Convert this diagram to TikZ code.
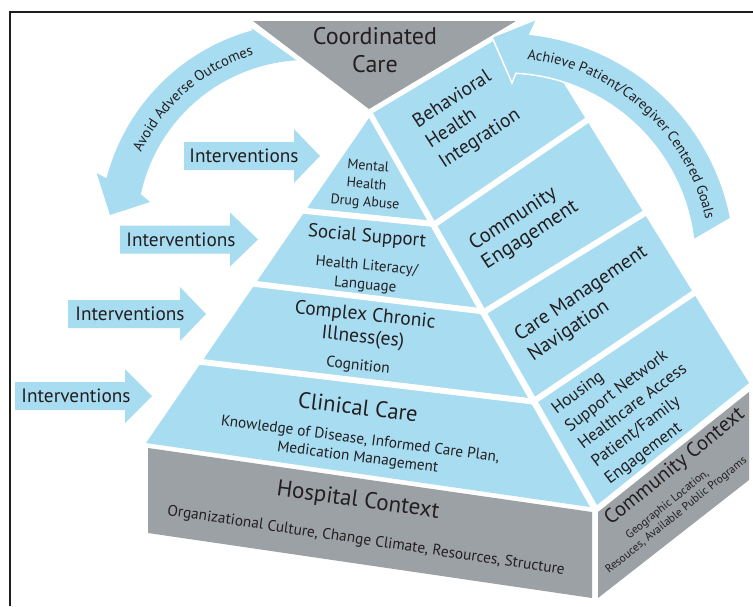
\documentclass[tikz,border=0pt]{standalone}
\usepackage{fontspec}
\setmainfont{PT Sans}
\usetikzlibrary{decorations.text}
\definecolor{pblue}{RGB}{168,220,241}
\definecolor{pgray}{RGB}{156,161,166}
\definecolor{ptext}{RGB}{35,31,32}
\definecolor{pframe}{RGB}{30,30,30}
\newcommand{\fsz}[2]{\fontsize{#1pt}{#2pt}\selectfont}
\tikzset{
  face/.style={fill=pblue},
  basebox/.style={fill=pgray},
  gapline/.style={draw=white, line width=6pt, shorten <=-4pt, shorten >=-4pt},
  lbl/.style={text=ptext, inner sep=0pt, align=center},
  intertext/.style={lbl, font=\fsz{19.3}{22}},
  bandarrow/.style={fill=pblue, draw=white, line width=1.5pt, line join=miter},
}
\newcommand{\intervarrow}[6]{%
  \fill[face] ({#1},{#4-14}) -- ({#2},{#4-14}) -- ({#2},{#4-27}) -- ({#3},{#4})
     -- ({#2},{#4+27}) -- ({#2},{#4+14}) -- ({#1},{#4+14}) -- cycle;
  \node[intertext] (#6) at (#5,#4) {Interventions};}
\begin{document}
\begin{tikzpicture}[x=1pt,y=-1pt]
\useasboundingbox (0,0) rectangle (753,606);
\fill[white] (0,0) rectangle (753,606);
% frame
\draw[pframe, line width=1.5pt] (753,12) -- (10,12) -- (10,606);
% coordinated care triangle
\fill[basebox] (253,21) -- (516,21) -- (369,109) -- cycle;
\node[lbl, font=\fsz{24}{28.5}] (coord) at (375,50) {Coordinated\\Care};
% front face
\fill[face] (369,118) -- (590,507) -- (146,443) -- cycle;
\draw[gapline] (306,211) -- (429,223.5);
\draw[gapline] (256,284) -- (480,311);
\draw[gapline] (202,362) -- (529,401);
% right face
\fill[face] (373,113) -- (505,34) -- (537,40) -- (749,383) -- (597,505) -- cycle;
\draw[gapline] (435,224) -- (586,121);
\draw[gapline] (484,312) -- (645,213);
\draw[gapline] (534,401) -- (694,293);
% base boxes
\fill[basebox] (148,448) -- (592,512) -- (592,598) -- (148,533) -- cycle;
\fill[basebox] (598,512) -- (749,392) -- (749,480) -- (598,598) -- cycle;
% avoid adverse outcomes arrow
\path[bandarrow, draw=none] (251.7,28.3) -- plot[domain=254.7:194.5, samples=40] ({307+207*cos(\x)},{230+207*sin(\x)})
   -- (96.7,173.3) -- (110,215) -- (150,202) -- (140.8,194.2)
   -- plot[domain=192.2:266.5, samples=40] ({307+170*cos(\x)},{230+170*sin(\x)}) -- cycle;
\path[decorate, decoration={text along path, text align=center, text color=ptext,
   text={|\fsz{14.5}{17}|Avoid Adverse Outcomes}}]
   plot[domain=199:259, samples=24] ({307+183*cos(\x)},{230+183*sin(\x)});
% achieve goals arrow
\path[bandarrow] (537,19) -- plot[domain=-84:-11, samples=40] ({506+229*cos(\x)},{262+229*sin(\x)})
   -- plot[domain=-6.7:-87, samples=40] ({506+189*cos(\x)},{262+189*sin(\x)})
   -- (512,83) -- (492,37) -- cycle;
\path[decorate, decoration={text along path, text align=center, text color=ptext,
   text={|\fsz{14.4}{16}|Achieve Patient/Caregiver Centered Goals}}]
   plot[domain=-86:-10, samples=28] ({506+204*cos(\x)},{262+204*sin(\x)});
% interventions arrows
\intervarrow{184}{294}{320}{156}{244}{int1}
\intervarrow{120}{230}{258}{239.5}{181}{int2}
\intervarrow{68}{180}{206}{314}{130}{int3}
\intervarrow{15}{125}{152}{396}{76}{int4}
% front face labels
\node[lbl, font=\fsz{14}{18}, rotate=-5] (mh) at (366.5,185) {Mental\\Health\\Drug Abuse};
\node[lbl, font=\fsz{19}{20}, rotate=-5] (soct) at (367,237) {Social Support};
\node[lbl, font=\fsz{15}{19.2}, rotate=-5] (socs) at (366,276) {Health Literacy/\\Language};
\node[lbl, font=\fsz{19.5}{22}, rotate=-6] (cxt) at (364,327) {Complex Chronic\\Illness(es)};
\node[lbl, font=\fsz{15.5}{16}, rotate=-6] (cxs) at (358,366) {Cognition};
\node[lbl, font=\fsz{22.5}{24}, rotate=-7] (clt) at (358,407) {Clinical Care};
\node[lbl, font=\fsz{15.3}{18.3}, rotate=-7.5] (cls) at (359,449) {Knowledge of Disease, Informed Care Plan,\\Medication Management};
\node[lbl, font=\fsz{23}{24}, rotate=-8] (hct) at (358,501) {Hospital Context};
\node[lbl, font=\fsz{15.4}{17}, rotate=-8.5] (hcs) at (366,541) {Organizational Culture, Change Climate, Resources, Structure};
% right face labels
\node[lbl, align=left, font=\fsz{19.5}{24}, rotate=33] (beh) at (467,119) {Behavioral\\Health\\Integration};
\node[lbl, align=left, font=\fsz{20.5}{23}, rotate=33] (comm) at (524,226) {Community\\Engagement};
\node[lbl, align=left, font=\fsz{20}{24}, rotate=34] (care) at (588,304) {Care Management\\Navigation};
\node[lbl, align=left, font=\fsz{17}{22}, rotate=37] (house) at (633,407) {Housing\\Support Network\\Healthcare Access\\Patient/Family\\Engagement};
\node[lbl, font=\fsz{20.6}{24}, rotate=39] (cct) at (675,467) {Community Context};
\node[lbl, font=\fsz{11.5}{14}, rotate=39] (ccs) at (672,510) {Geographic Location,\\Resouces, Available Public Programs};
\end{tikzpicture}
\end{document}
